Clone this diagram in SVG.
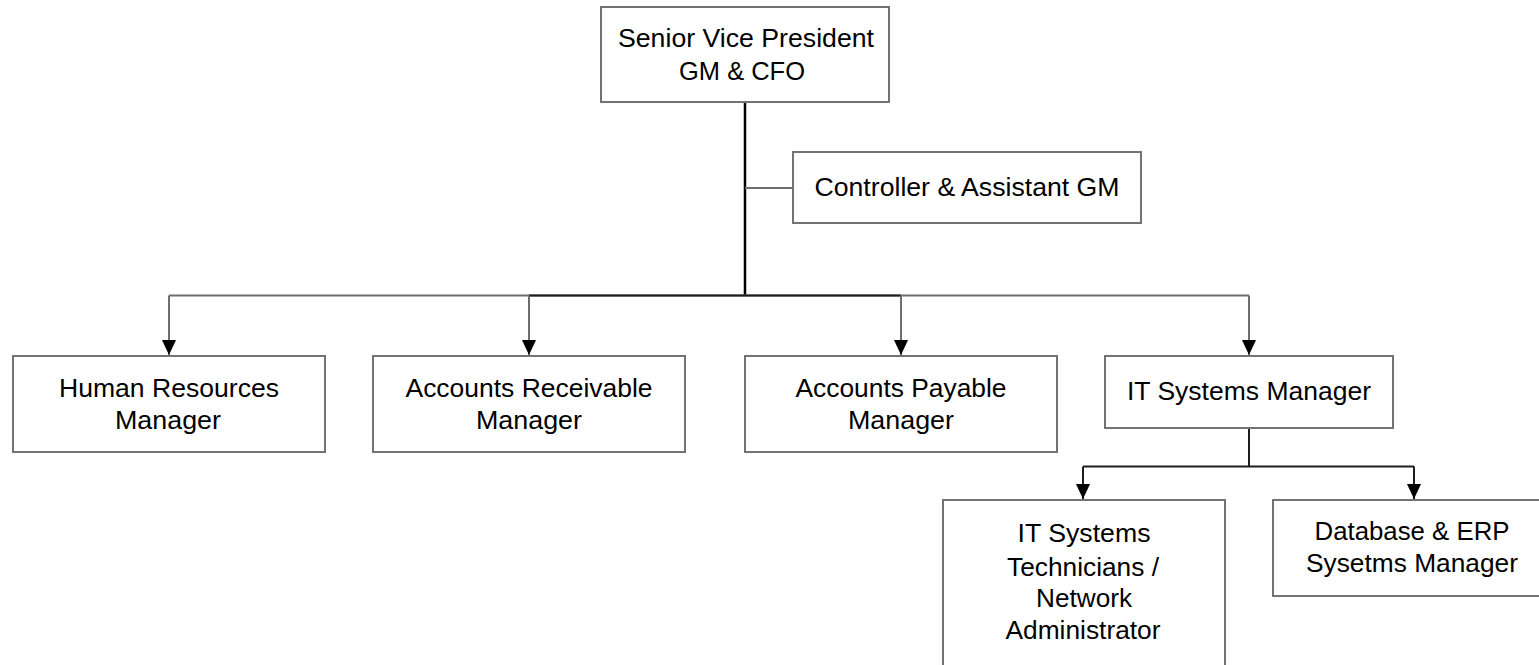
<svg xmlns="http://www.w3.org/2000/svg" width="1539" height="665" viewBox="0 0 1539 665">
  <style>
    .box { fill: #ffffff; stroke: #737373; stroke-width: 2; }
    .lbl { font-family: "Liberation Sans", Arial, sans-serif; font-size: 26px; fill: #000000; text-anchor: middle; }
    .grey { fill: none; stroke: #6e6e6e; stroke-width: 2; }
    .dark { fill: none; stroke: #1e1e1e; stroke-width: 2; }
    .thick { fill: none; stroke: #000000; stroke-width: 2.5; }
  </style>
  <defs>
    <marker id="arrow" markerUnits="userSpaceOnUse" markerWidth="16" markerHeight="15" refX="15" refY="7" orient="auto" viewBox="0 0 16 15">
      <path d="M0,0 L15,7 L0,14 z" fill="#000000"/>
    </marker>
  </defs>
  <rect width="1539" height="665" fill="#ffffff"/>

  <g id="connectors">
    <path class="thick" d="M745,102 V296"/>
    <path class="grey" d="M745,188 H793"/>
    <path class="grey" d="M169,295.5 H1249"/>
    <path class="dark" d="M529,295.5 H901"/>
    <path class="grey" d="M169,295.5 V355" marker-end="url(#arrow)"/>
    <path class="grey" d="M529,295.5 V355" marker-end="url(#arrow)"/>
    <path class="grey" d="M901,295.5 V355" marker-end="url(#arrow)"/>
    <path class="grey" d="M1249,295.5 V355" marker-end="url(#arrow)"/>
    <path class="dark" d="M1249,428 V466.5"/>
    <path class="dark" d="M1083,466.5 H1414"/>
    <path class="dark" d="M1083,466.5 V499" marker-end="url(#arrow)"/>
    <path class="dark" d="M1414,466.5 V499" marker-end="url(#arrow)"/>
  </g>

  <g id="node-svp">
    <rect class="box" x="601" y="7" width="288" height="95"/>
    <text class="lbl" x="746" y="47" textLength="256" lengthAdjust="spacingAndGlyphs">Senior Vice President</text>
    <text class="lbl" x="742" y="80" textLength="126" lengthAdjust="spacingAndGlyphs">GM &amp; CFO</text>
  </g>

  <g id="node-controller">
    <rect class="box" x="793" y="152" width="348" height="71"/>
    <text class="lbl" x="967" y="196" textLength="305" lengthAdjust="spacingAndGlyphs">Controller &amp; Assistant GM</text>
  </g>

  <g id="node-hr">
    <rect class="box" x="13" y="356" width="312" height="96"/>
    <text class="lbl" x="169" y="397" textLength="220" lengthAdjust="spacingAndGlyphs">Human Resources</text>
    <text class="lbl" x="168" y="429" textLength="106" lengthAdjust="spacingAndGlyphs">Manager</text>
  </g>

  <g id="node-ar">
    <rect class="box" x="373" y="356" width="312" height="96"/>
    <text class="lbl" x="529" y="397" textLength="247" lengthAdjust="spacingAndGlyphs">Accounts Receivable</text>
    <text class="lbl" x="529" y="429" textLength="106" lengthAdjust="spacingAndGlyphs">Manager</text>
  </g>

  <g id="node-ap">
    <rect class="box" x="745" y="356" width="312" height="96"/>
    <text class="lbl" x="901" y="397" textLength="211" lengthAdjust="spacingAndGlyphs">Accounts Payable</text>
    <text class="lbl" x="901" y="429" textLength="106" lengthAdjust="spacingAndGlyphs">Manager</text>
  </g>

  <g id="node-itm">
    <rect class="box" x="1105" y="356" width="288" height="72"/>
    <text class="lbl" x="1249" y="400" textLength="244" lengthAdjust="spacingAndGlyphs">IT Systems Manager</text>
  </g>

  <g id="node-tech">
    <rect class="box" x="943" y="500" width="282" height="200"/>
    <text class="lbl" x="1084" y="542" textLength="133" lengthAdjust="spacingAndGlyphs">IT Systems</text>
    <text class="lbl" x="1083" y="576" textLength="152" lengthAdjust="spacingAndGlyphs">Technicians /</text>
    <text class="lbl" x="1084" y="607" textLength="96" lengthAdjust="spacingAndGlyphs">Network</text>
    <text class="lbl" x="1083" y="639" textLength="155" lengthAdjust="spacingAndGlyphs">Administrator</text>
  </g>

  <g id="node-db">
    <rect class="box" x="1273" y="500" width="282" height="96"/>
    <text class="lbl" x="1412" y="540" textLength="195" lengthAdjust="spacingAndGlyphs">Database &amp; ERP</text>
    <text class="lbl" x="1412" y="572" textLength="212" lengthAdjust="spacingAndGlyphs">Sysetms Manager</text>
  </g>
</svg>
